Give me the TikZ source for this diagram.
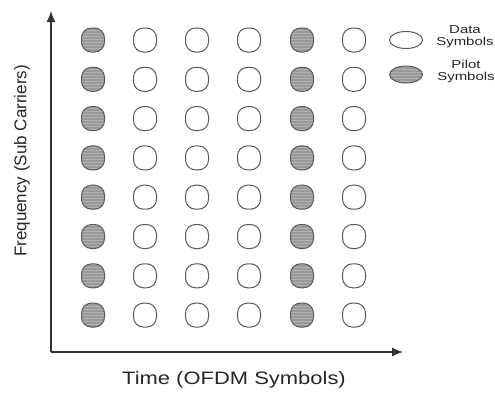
\documentclass[tikz,border=0pt]{standalone}
\usepackage{fontspec}
\setmainfont{Liberation Sans}
\usetikzlibrary{patterns,arrows.meta,shapes.geometric}
\begin{document}
\begin{tikzpicture}[x=1pt,y=-1pt,
  sym/.style={draw=black!65, line width=1pt, rounded corners=10pt,
    minimum width=23pt, minimum height=24pt, inner sep=0pt},
  datasym/.style={sym, fill=white},
  pilotsym/.style={sym, preaction={fill=black!40}, pattern=horizontal lines, pattern color=black!30},
  legdata/.style={datasym, rounded corners=0pt, ellipse, minimum width=33pt, minimum height=17pt},
  legpilot/.style={pilotsym, rounded corners=0pt, ellipse, minimum width=33pt, minimum height=17pt},
  axis/.style={draw=black!80, line width=1.1pt, -{Latex[length=11pt,width=9pt]}},
  lab/.style={text=black!85, inner sep=0pt}]
\useasboundingbox (0,0) rectangle (495,394);
\coordinate (origin) at (51,352);
\coordinate (ytip) at (51,11);
\coordinate (xtip) at (403,352);
\draw[axis] (origin) -- (ytip);
\draw[axis] (origin) -- (xtip);
\foreach \c/\x in {1/93,2/145,3/197,4/249,5/302,6/354}{
  \foreach \r in {0,...,7}{
    \ifnum\c=1 \def\kind{pilotsym}\else\ifnum\c=5 \def\kind{pilotsym}\else\def\kind{datasym}\fi\fi
    \node[\kind] (s\c-\r) at (\x,{40+39.3*\r}) {};
  }
}
\node[legdata] (ldata) at (406,40) {};
\node[legpilot] (lpilot) at (406,74.5) {};
\node[lab, align=center, font=\fontsize{11.5}{12}\selectfont] (tdata) at (465,37)
  {\scalebox{1.3}[1]{Data}\\\scalebox{1.3}[1]{Symbols}};
\node[lab, align=center, font=\fontsize{11.5}{12}\selectfont] (tpilot) at (466,72)
  {\scalebox{1.3}[1]{Pilot}\\\scalebox{1.3}[1]{Symbols}};
\node[lab, font=\fontsize{18}{20}\selectfont] (xlab) at (234,380)
  {\scalebox{1.22}[1]{Time (OFDM Symbols)}};
\node[lab, rotate=90, font=\fontsize{17}{20}\selectfont] (ylab) at (22,161)
  {Frequency (Sub Carriers)};
\end{tikzpicture}
\end{document}
